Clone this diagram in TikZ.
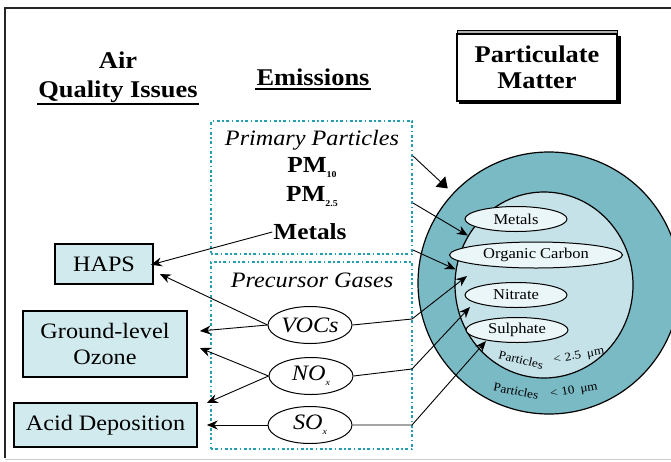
\documentclass[tikz,border=0pt]{standalone}
\usepackage{fontspec}
\setmainfont{Liberation Serif}[FakeStretch=1.1]
\usetikzlibrary{arrows.meta,shapes.geometric}
\definecolor{boxfill}{RGB}{208,234,238}
\definecolor{outerc}{RGB}{122,186,196}
\definecolor{innerc}{RGB}{196,226,232}
\definecolor{smallc}{RGB}{234,246,248}
\definecolor{dotteal}{RGB}{38,158,175}
\newcommand{\lowsub}[1]{\raisebox{-5pt}{\fontsize{9}{9}\selectfont #1}}
\begin{document}
\begin{tikzpicture}[x=1pt,y=-1pt,
  qbox/.style={draw=black, line width=1.6pt, fill=boxfill, inner sep=0pt, align=center, font=\fontsize{22}{26}\selectfont},
  gas/.style={draw=black, ellipse, line width=1pt, fill=white, minimum width=84pt, minimum height=37pt, inner sep=0pt, font=\fontsize{22}{24}\selectfont\itshape},
  comp/.style={draw=black, ellipse, line width=1pt, fill=smallc, inner sep=0pt, minimum height=25pt, font=\fontsize{15}{18}\selectfont},
  arctext/.style={font=\fontsize{12}{12}\selectfont, inner sep=0pt},
  arr/.style={-{Stealth[length=11pt,width=9pt]}, line width=0.9pt},
  bigarr/.style={-{Triangle[length=10pt,width=14pt]}, line width=0.9pt},
  head/.style={font=\fontsize{24}{28}\selectfont\bfseries, inner sep=1pt},
  emtext/.style={font=\fontsize{23}{27}\selectfont\bfseries, inner sep=1pt},
  ittext/.style={font=\fontsize{22}{26}\selectfont\itshape, inner sep=1pt},
  embox/.style={draw=dotteal, line width=2pt, dash pattern=on 1.5pt off 2.5pt on 3pt off 2.5pt, inner sep=0pt},
  ul/.style={line width=1.6pt},
]
\useasboundingbox (0,0) rectangle (671,461);
% frame
\draw[line width=2pt, black!85] (5,458) -- (5,8) -- (690,8);
\draw[line width=1pt, black!20] (5,459.5) -- (690,459.5);

% headings
\node[head] (air) at (118,60) {Air};
\node[head] (qi) at (118,92) {Quality Issues};
\coordinate (ulq) at (0,104);
\draw[ul] (qi.west |- ulq) -- (qi.east |- ulq);
\node[head] (em) at (313,77) {Emissions};
\coordinate (ule) at (0,89);
\draw[ul] (em.west |- ule) -- (em.east |- ule);

% particulate matter box
\fill[black!30] (457,30) rectangle (617,34);
\draw[line width=1pt] (457,30) rectangle (617,34);
\node[head, draw, line width=1.4pt, minimum width=160pt, minimum height=67pt, align=center, inner sep=0pt] (pmt) at (537,67.5) {Particulate\\[-2pt]Matter};
\draw[line width=2.5pt] (619.5,36) -- (619.5,102.5) -- (459,102.5);

% circles
\node[circle, draw, line width=1.2pt, fill=outerc, minimum size=262pt, inner sep=0pt] (pm) at (549,283) {};
\node[ellipse, draw, line width=1.2pt, fill=innerc, minimum width=178pt, minimum height=186pt, inner sep=0pt] (fine) at (544,285) {};
\node[comp, minimum width=102pt] (cmet) at (516,219) {Metals};
\node[comp, minimum width=173pt, minimum height=26pt] (coc) at (536,255) {Organic Carbon};
\node[comp, minimum width=102pt] (cnit) at (516,295) {Nitrate};
\node[comp, minimum width=102pt] (csul) at (517,330) {Sulphate};

% texts following the circles
\node[arctext, rotate=-14] (fa) at (521,360) {Particles};
\node[arctext, rotate=10] (fb) at (579,356) {<\,\,2.5\,\,\,μm};
\node[arctext, rotate=-11] (ca) at (516,391) {Particles};
\node[arctext, rotate=10] (cb) at (574,391) {<\,\,10\,\,\,μm};

% emission boxes
\node[embox, minimum width=201pt, minimum height=133pt] (ppbox) at (311.5,187.5) {};
\node[embox, minimum width=201pt, minimum height=187pt] (pgbox) at (311.5,355.5) {};

\node[ittext] (pp) at (312,140) {Primary Particles};
\node[emtext] (pm10) at (312,168) {PM\lowsub{10}};
\node[emtext] (pm25) at (312,197) {PM\lowsub{2.5}};
\node[emtext] (metals) at (310,232) {Metals};
\node[ittext] (pg) at (312,280) {Precursor Gases};

\node[gas] (voc) at (310,325) {VOCs};
\node[gas] (nox) at (311,376) {NO\lowsub{x}};
\node[gas] (sox) at (310,425) {SO\lowsub{x}};

% air quality boxes
\node[qbox, minimum width=98pt, minimum height=40pt] (haps) at (104,264) {HAPS};
\node[qbox, minimum width=164pt, minimum height=66pt] (oz) at (105,344) {Ground-level\\Ozone};
\node[qbox, minimum width=183pt, minimum height=44pt] (acid) at (105.5,425) {Acid Deposition};

% connectors to particulate matter
\coordinate (s1) at (413,156);
\coordinate (s2) at (413,203);
\coordinate (s3) at (413,250);
\coordinate (b4) at (412,319);
\coordinate (b5) at (412,369);
\coordinate (b6) at (412,425);
\coordinate (t4) at (467,276);
\coordinate (t5) at (470,307);
\coordinate (t6) at (486,341);
\draw[bigarr, shorten >=7pt] (s1) -- (pm);
\draw[arr] (s2) -- (fine.147);
\draw[arr] (s3) -- (fine.170);
\draw[arr] (voc.east) -- (b4) -- (t4);
\draw[arr] (nox.east) -- (b5) -- (t5);
\draw[arr] (sox.east) -- (b6) -- (t6);

% connectors to air quality issues
\draw[arr, shorten >=-3pt] (metals.west) -- (haps.east);
\draw[arr] (voc.west) -- ([xshift=6pt,yshift=-10pt]haps.east);
\draw[arr] (voc.west) -- ([xshift=12pt,yshift=13pt]oz.east);
\draw[arr] (nox.west) -- ([xshift=12pt,yshift=-4pt]oz.east);
\draw[arr] (nox.west) -- ([xshift=9pt,yshift=22pt]acid.east);
\draw[arr] (sox.west) -- ([xshift=9pt]acid.east);
\end{tikzpicture}
\end{document}
